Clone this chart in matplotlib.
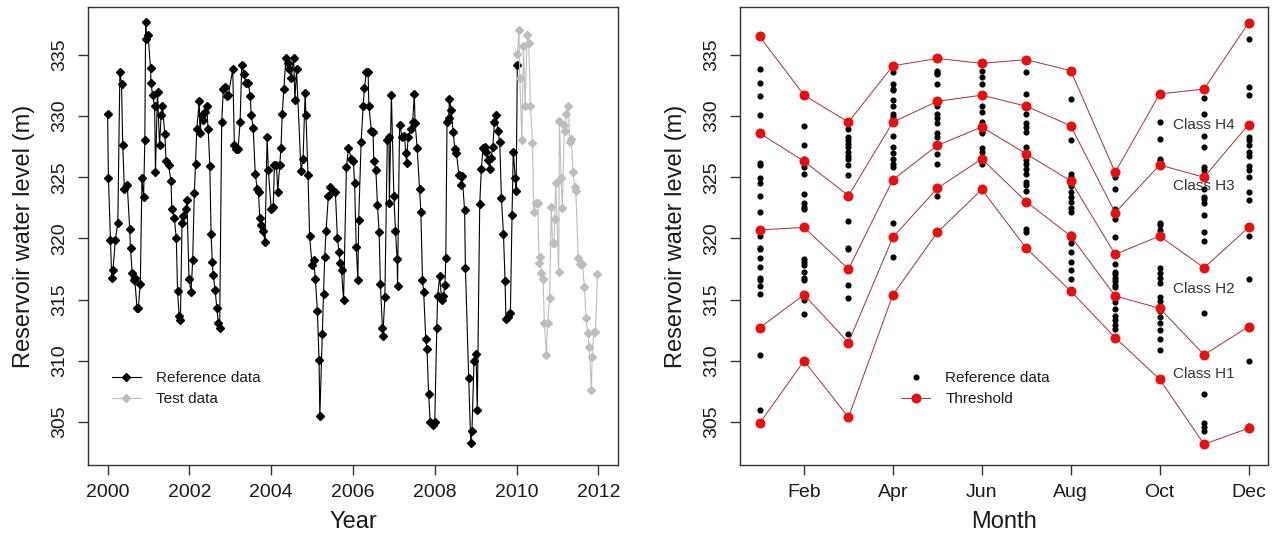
import matplotlib
matplotlib.use("Agg")
import matplotlib.pyplot as plt
from matplotlib.lines import Line2D

plt.rcParams["font.family"] = ["Liberation Sans", "DejaVu Sans"]

# ---- left panel: reservoir level series ----
ref_year = [
    2000.00, 2000.02, 2000.07, 2000.10, 2000.13, 2000.19, 2000.25, 2000.30, 2000.34, 2000.37,
    2000.41, 2000.48, 2000.54, 2000.56, 2000.60, 2000.64, 2000.66, 2000.72, 2000.75, 2000.80,
    2000.84, 2000.88, 2000.91, 2000.93, 2000.95, 2000.99, 2001.05, 2001.06, 2001.10, 2001.15,
    2001.17, 2001.22, 2001.27, 2001.31, 2001.34, 2001.40, 2001.43, 2001.49, 2001.55, 2001.57,
    2001.63, 2001.68, 2001.71, 2001.75, 2001.78, 2001.82, 2001.85, 2001.92, 2001.94, 2001.99,
    2002.04, 2002.08, 2002.12, 2002.15, 2002.18, 2002.24, 2002.26, 2002.30, 2002.34, 2002.38,
    2002.42, 2002.46, 2002.50, 2002.53, 2002.56, 2002.58, 2002.63, 2002.67, 2002.71, 2002.74,
    2002.79, 2002.83, 2002.87, 2002.91, 2002.95, 2003.06, 2003.10, 2003.14, 2003.19, 2003.24,
    2003.28, 2003.34, 2003.38, 2003.44, 2003.49, 2003.51, 2003.56, 2003.61, 2003.66, 2003.69,
    2003.72, 2003.76, 2003.80, 2003.85, 2003.90, 2003.93, 2004.00, 2004.05, 2004.08, 2004.13,
    2004.16, 2004.21, 2004.24, 2004.27, 2004.31, 2004.36, 2004.40, 2004.44, 2004.49, 2004.55,
    2004.58, 2004.62, 2004.73, 2004.78, 2004.83, 2004.85, 2004.90, 2004.94, 2005.00, 2005.04,
    2005.08, 2005.13, 2005.17, 2005.19, 2005.25, 2005.28, 2005.31, 2005.34, 2005.40, 2005.45,
    2005.51, 2005.57, 2005.62, 2005.66, 2005.68, 2005.72, 2005.77, 2005.84, 2005.89, 2005.96,
    2006.01, 2006.04, 2006.08, 2006.12, 2006.14, 2006.20, 2006.25, 2006.28, 2006.33, 2006.37,
    2006.39, 2006.45, 2006.49, 2006.51, 2006.56, 2006.60, 2006.64, 2006.67, 2006.72, 2006.73,
    2006.78, 2006.84, 2006.88, 2006.89, 2006.94, 2007.00, 2007.04, 2007.08, 2007.09, 2007.14,
    2007.20, 2007.26, 2007.29, 2007.31, 2007.35, 2007.43, 2007.46, 2007.50, 2007.52, 2007.57,
    2007.63, 2007.66, 2007.70, 2007.73, 2007.78, 2007.81, 2007.85, 2007.89, 2007.96, 2008.00,
    2008.05, 2008.07, 2008.12, 2008.17, 2008.21, 2008.25, 2008.27, 2008.30, 2008.34, 2008.36,
    2008.40, 2008.45, 2008.49, 2008.53, 2008.59, 2008.63, 2008.65, 2008.67, 2008.73, 2008.75,
    2008.83, 2008.88, 2008.91, 2008.96, 2009.01, 2009.04, 2009.10, 2009.14, 2009.18, 2009.22,
    2009.26, 2009.30, 2009.34, 2009.38, 2009.42, 2009.46, 2009.50, 2009.54, 2009.59, 2009.63,
    2009.68, 2009.72, 2009.74, 2009.80, 2009.85, 2009.89, 2009.92, 2009.97, 2009.99, 2010.02,
]
ref_level = [
    330.2, 324.9, 319.9, 316.8, 317.4, 319.9, 321.3, 333.6, 332.6, 327.6,
    324.0, 324.4, 320.8, 319.2, 317.2, 316.6, 316.8, 314.3, 314.3, 316.3,
    324.9, 323.4, 328.0, 337.7, 336.3, 336.6, 333.9, 332.7, 331.7, 330.8,
    325.4, 332.0, 327.6, 330.1, 330.8, 328.5, 326.3, 326.0, 324.7, 322.4,
    321.7, 320.0, 315.7, 313.7, 313.3, 321.3, 321.8, 322.4, 323.1, 316.7,
    315.6, 318.2, 323.7, 326.1, 328.9, 331.2, 328.6, 330.1, 329.7, 330.3,
    330.8, 328.9, 325.9, 320.4, 318.1, 317.0, 315.8, 314.3, 313.1, 312.7,
    329.5, 332.2, 332.4, 331.6, 331.7, 333.8, 327.6, 327.3, 327.3, 329.5,
    334.2, 333.4, 332.7, 332.7, 331.6, 330.1, 329.0, 325.3, 324.0, 323.8,
    321.7, 321.1, 320.6, 319.7, 328.3, 325.6, 322.4, 322.6, 326.0, 326.0,
    323.8, 326.0, 327.4, 330.2, 332.2, 334.7, 334.3, 333.8, 333.1, 334.7,
    331.3, 333.8, 325.5, 326.5, 331.9, 330.1, 325.2, 320.2, 317.8, 318.2,
    316.7, 314.1, 310.1, 305.5, 312.2, 315.5, 318.5, 320.6, 323.5, 324.2,
    323.9, 323.8, 320.0, 318.9, 318.0, 317.4, 315.0, 325.8, 327.4, 326.5,
    326.3, 324.5, 319.3, 316.6, 321.5, 327.9, 330.8, 332.3, 333.6, 333.6,
    330.8, 328.8, 328.7, 326.3, 325.6, 322.7, 320.5, 316.3, 312.7, 312.0,
    315.2, 328.0, 328.3, 322.9, 331.7, 323.5, 320.6, 318.3, 316.1, 329.3,
    328.3, 328.4, 327.0, 326.2, 328.3, 328.9, 329.5, 331.8, 329.4, 327.4,
    324.0, 322.2, 316.6, 315.6, 311.8, 311.0, 307.3, 305.0, 304.8, 305.0,
    312.7, 315.3, 316.9, 315.0, 315.3, 316.2, 318.4, 329.5, 329.8, 331.4,
    330.5, 328.7, 327.3, 327.0, 325.2, 325.1, 324.4, 325.1, 322.3, 317.6,
    308.6, 303.3, 304.3, 310.0, 310.6, 306.0, 322.8, 325.7, 327.4, 327.5,
    327.1, 326.4, 325.7, 326.6, 327.5, 329.5, 330.1, 328.8, 327.9, 323.3,
    320.4, 316.5, 313.4, 313.6, 313.9, 321.9, 327.1, 324.9, 323.9, 334.2,
]
test_year = [
    2010.02, 2010.06, 2010.08, 2010.13, 2010.17, 2010.21, 2010.26, 2010.30, 2010.34, 2010.39,
    2010.42, 2010.47, 2010.52, 2010.55, 2010.57, 2010.60, 2010.65, 2010.68, 2010.73, 2010.76,
    2010.81, 2010.85, 2010.88, 2010.92, 2010.93, 2010.96, 2011.03, 2011.05, 2011.09, 2011.12,
    2011.17, 2011.19, 2011.22, 2011.27, 2011.30, 2011.34, 2011.38, 2011.42, 2011.45, 2011.51,
    2011.56, 2011.61, 2011.66, 2011.70, 2011.74, 2011.78, 2011.83, 2011.85, 2011.89, 2011.93,
    2011.98,
]
test_level = [
    335.1, 337.0, 333.1, 328.0, 335.7, 330.8, 336.6, 336.0, 330.8, 327.8,
    322.2, 322.9, 322.9, 318.0, 318.5, 317.2, 316.7, 313.1, 310.5, 313.1,
    315.1, 322.6, 319.6, 319.6, 321.6, 324.5, 317.3, 329.6, 324.9, 322.5,
    329.3, 328.8, 330.2, 330.8, 327.9, 328.1, 325.4, 324.2, 323.9, 318.4,
    317.9, 317.9, 316.0, 313.5, 312.3, 311.1, 307.6, 310.3, 312.4, 312.4,
    317.1,
]

# ---- right panel: monthly observations and class thresholds ----
months = list(range(1, 13))
month_ticks = [2, 4, 6, 8, 10, 12]
month_labels = ["Feb", "Apr", "Jun", "Aug", "Oct", "Dec"]

monthly_obs = [
    [333.8, 332.7, 331.6, 330.1, 326.2, 326.0, 324.9, 324.5, 323.5, 322.2, 320.2, 319.2,
     319.1, 318.4, 317.7, 316.8, 316.6, 316.1, 315.5, 310.5, 306.0],
    [329.2, 327.6, 326.5, 325.8, 325.3, 323.6, 322.9, 322.6, 322.4, 318.3, 318.1, 317.8,
     317.3, 316.8, 316.6, 315.0, 313.8],
    [328.9, 328.3, 328.0, 327.7, 327.5, 327.1, 326.7, 326.5, 326.0, 325.2, 323.6, 321.4,
     319.2, 319.1, 316.2, 315.1, 312.2],
    [333.6, 332.6, 332.2, 332.1, 331.3, 330.8, 330.2, 329.9, 329.5, 328.4, 327.5, 327.0,
     326.5, 326.1, 325.8, 321.3, 318.5],
    [333.7, 333.5, 333.4, 332.6, 331.3, 330.8, 330.2, 329.8, 329.4, 328.6, 328.3, 326.9,
     326.1, 323.5],
    [333.7, 333.2, 332.6, 330.8, 330.3, 329.5, 328.7, 328.6, 327.4, 327.1, 326.1],
    [333.6, 331.8, 330.2, 329.4, 329.1, 328.7, 327.5, 326.8, 326.4, 326.1, 325.7, 325.3,
     324.6, 324.4, 323.9, 320.8, 320.5],
    [331.4, 328.0, 325.3, 325.0, 324.5, 324.3, 323.8, 323.4, 323.0, 322.5, 322.2, 320.4,
     320.1, 319.6, 318.9, 318.1, 317.4, 316.7],
    [325.0, 324.0, 322.4, 321.6, 320.1, 317.9, 317.3, 317.1, 316.8, 316.5, 316.2, 316.0,
     314.8, 314.2, 313.7, 313.3, 312.9, 312.6],
    [329.5, 328.1, 326.5, 326.3, 321.3, 321.1, 320.7, 317.6, 317.2, 316.8, 316.4, 315.2,
     314.9, 314.5, 314.1, 313.6, 313.1, 312.5, 311.8, 310.9],
    [331.5, 330.2, 328.4, 327.5, 325.8, 325.6, 324.0, 323.4, 323.2, 322.9, 321.9, 320.5,
     319.8, 313.9, 307.3, 304.9, 304.6, 304.3],
    [336.3, 332.4, 331.7, 328.3, 328.0, 327.6, 327.1, 326.7, 325.9, 325.6, 325.0, 323.8,
     323.1, 320.2, 316.7, 310.0, 304.7, 304.4],
]

thr_top = [336.5, 331.7, 329.5, 334.1, 334.7, 334.3, 334.6, 333.7, 325.4, 331.8, 332.2, 337.6]
thr_h4 = [328.6, 326.3, 323.5, 329.5, 331.2, 331.7, 330.8, 329.2, 322.1, 326.0, 325.0, 329.3]
thr_h3 = [320.7, 320.9, 317.5, 324.8, 327.6, 329.1, 326.9, 324.7, 318.7, 320.2, 317.6, 320.9]
thr_h2 = [312.7, 315.4, 311.5, 320.1, 324.1, 326.5, 323.0, 320.2, 315.3, 314.3, 310.5, 312.8]
thr_low = [304.9, 310.0, 305.4, 315.4, 320.5, 324.0, 319.2, 315.7, 311.9, 308.5, 303.2, 304.5]

class_names = ["Class H4", "Class H3", "Class H2", "Class H1"]
class_y = [329.3, 324.3, 315.9, 308.9]

TXT = "#1a1a1a"
LINE_RED = "#a83c3c"
DOT_RED = "#e31212"
GREY = "#bdbdbd"


def style_axis(ax, xlabel):
    for s in ax.spines.values():
        s.set_color("#333333")
        s.set_linewidth(1.0)
    ax.tick_params(axis="both", direction="out", length=7, width=1.0,
                   color="#333333", labelsize=14, labelcolor=TXT, pad=7)
    ax.set_ylim(301.5, 338.9)
    ax.set_yticks([305, 310, 315, 320, 325, 330, 335])
    for lab in ax.get_yticklabels():
        lab.set_rotation(90)
        lab.set_va("center")
    ax.set_ylabel("Reservoir water level (m)", fontsize=17, color=TXT, labelpad=12)
    ax.set_xlabel(xlabel, fontsize=17, color=TXT, labelpad=7)


fig = plt.figure(figsize=(12.77, 5.39), dpi=100)
ax1 = fig.add_axes([0.0689, 0.1373, 0.4150, 0.8497])
ax2 = fig.add_axes([0.5795, 0.1373, 0.4135, 0.8497])

# left
ax1.plot(ref_year, ref_level, color="black", lw=0.8, marker="D", ms=4.0,
         mec="black", mfc="black", label="Reference data")
ax1.plot(test_year, test_level, color=GREY, lw=0.8, marker="D", ms=4.0,
         mec=GREY, mfc=GREY, label="Test data")
ax1.set_xlim(1999.52, 2012.48)
ax1.set_xticks(range(2000, 2013, 2))
style_axis(ax1, "Year")
ax1.legend(loc="upper left", bbox_to_anchor=(0.045, 0.205), frameon=False,
           fontsize=11, handlelength=1.9, handletextpad=1.0, labelspacing=0.45,
           borderpad=0, borderaxespad=0, labelcolor=TXT)

# right
for m, vals in zip(months, monthly_obs):
    ax2.plot([m] * len(vals), vals, ls="none", marker="o", ms=3.4,
             color="black")
for thr in [thr_top, thr_h4, thr_h3, thr_h2, thr_low]:
    ax2.plot(months, thr, color=LINE_RED, lw=0.75, zorder=3)
    ax2.plot(months, thr, ls="none", marker="o", ms=6.2, color=DOT_RED, zorder=4)
for name, yv in zip(class_names, class_y):
    ax2.text(11, yv, name, fontsize=11, color="#333333", ha="center", va="center",
             zorder=5)
ax2.set_xlim(0.56, 12.44)
ax2.set_xticks(month_ticks)
ax2.set_xticklabels(month_labels)
style_axis(ax2, "Month")
h_ref = Line2D([], [], ls="none", marker="o", ms=3.4, color="black")
h_thr = Line2D([], [], color=LINE_RED, lw=0.75, marker="o", ms=6.2,
               mfc=DOT_RED, mec=DOT_RED)
ax2.legend([h_ref, h_thr], ["Reference data", "Threshold"], loc="upper left",
           bbox_to_anchor=(0.305, 0.205), frameon=False, fontsize=11,
           handlelength=1.9, handletextpad=1.0, labelspacing=0.45,
           borderpad=0, borderaxespad=0, labelcolor=TXT)

fig.savefig("out.png", dpi=100)
